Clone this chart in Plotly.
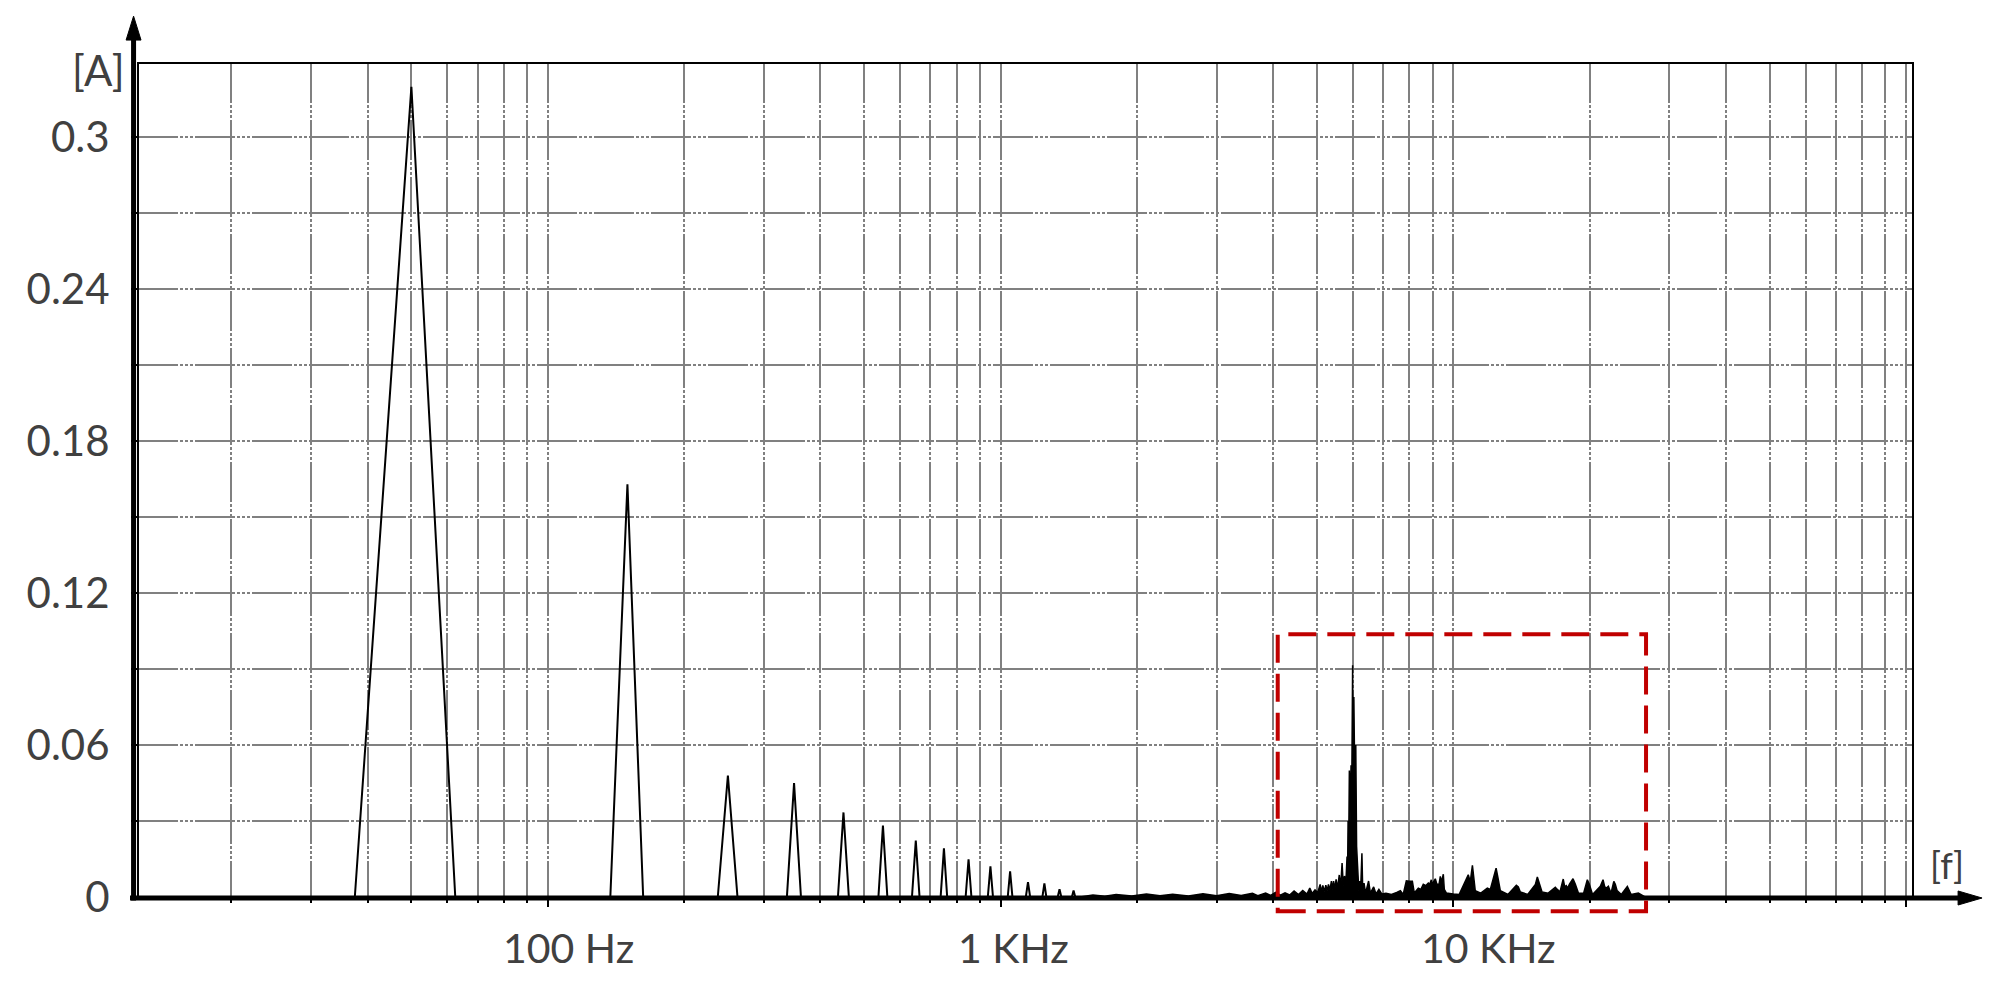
import plotly.graph_objects as go

# harmonic lines of the 50 Hz fundamental: frequency [Hz] and amplitude [A]
harm_freq = [50, 150, 250, 350, 450, 550, 650, 750, 850, 950, 1050, 1150, 1250, 1350, 1450]
harm_amp = [0.320, 0.163, 0.048, 0.045, 0.0334, 0.0282, 0.0223, 0.0192, 0.0149, 0.0121,
            0.0101, 0.0059, 0.0054, 0.0031, 0.0026]
half_width = 12.5  # base half-width of each harmonic peak [Hz]

# high-frequency part (noise + switching cluster around 6 kHz + sidebands)
hf_freq = [1500, 1600, 1700, 1800, 1950, 2100, 2250, 2400, 2600, 2800, 3000, 3200, 3400,
           3600, 3700, 3850, 3950, 4050, 4150, 4250, 4350, 4450, 4550, 4650, 4750, 4820,
           4880, 4950, 5020, 5080, 5120, 5150, 5190, 5230, 5265, 5300, 5340, 5380, 5410,
           5440, 5475, 5510, 5550, 5600, 5640, 5680, 5715, 5750, 5790, 5825, 5840, 5856,
           5875, 5894, 5915, 5945, 5965, 5993, 6010, 6030, 6060, 6090, 6115, 6160, 6185,
           6210, 6240, 6283, 6310, 6350, 6400, 6500, 6560, 6670, 6750, 6850, 6950, 7100,
           7300, 7500, 7640, 7750, 7875, 8000, 8120, 8200, 8370, 8480, 8585, 8700, 8807,
           8870, 8942, 9000, 9033, 9125, 9200, 9300, 9360, 9420, 9504, 9552, 9650, 10000,
           10300, 10790, 10900, 11020, 11120, 11180, 11500, 11890, 12070, 12250, 12430,
           12550, 12700, 13200, 13780, 13920, 14060, 14600, 15180, 15330, 15490, 15700,
           16200, 16800, 16970, 17200, 17490, 17620, 17760, 17900, 18040, 18380, 18600,
           18900, 19400, 19770, 19970, 20300, 21120, 21410, 21600, 21780, 22000, 22300,
           22620, 22790, 23000, 23500, 24230, 24350, 24700, 25620, 25880, 26500]
hf_amp = [0.0, 0.0008, 0.0003, 0.0010, 0.0004, 0.0012, 0.0005, 0.0011, 0.0004, 0.0013,
          0.0005, 0.0014, 0.0006, 0.0015, 0.0005, 0.0016, 0.0006, 0.0018, 0.0007, 0.0016,
          0.0008, 0.0024, 0.0010, 0.0026, 0.0012, 0.0035, 0.0014, 0.0028, 0.0018, 0.0050,
          0.0020, 0.0046, 0.0022, 0.0047, 0.0025, 0.0050, 0.0028, 0.0063, 0.0030, 0.0063,
          0.0032, 0.0070, 0.0035, 0.0087, 0.0040, 0.0134, 0.0045, 0.0083, 0.0050, 0.016,
          0.008, 0.030, 0.020, 0.050, 0.030, 0.052, 0.040, 0.0915, 0.050, 0.079, 0.045,
          0.060, 0.020, 0.0055, 0.0025, 0.0063, 0.0020, 0.0173, 0.0020, 0.0055, 0.0015,
          0.0063, 0.0015, 0.0040, 0.0012, 0.0030, 0.0012, 0.0015, 0.0010, 0.0018, 0.0025,
          0.0010, 0.0064, 0.0062, 0.0062, 0.0016, 0.0035, 0.0030, 0.0050, 0.0045, 0.0055,
          0.0050, 0.0068, 0.0040, 0.0058, 0.0072, 0.0050, 0.0050, 0.0081, 0.0060, 0.0090,
          0.0030, 0.0016, 0.0012, 0.0010, 0.0088, 0.0060, 0.0125, 0.0060, 0.0025, 0.0015,
          0.0035, 0.0030, 0.0068, 0.0114, 0.0075, 0.0025, 0.0010, 0.0046, 0.0040, 0.0020,
          0.0010, 0.0050, 0.0079, 0.0055, 0.0020, 0.0015, 0.0038, 0.0030, 0.0020, 0.0071,
          0.0040, 0.0045, 0.0035, 0.0050, 0.0072, 0.0050, 0.0015, 0.0015, 0.0068, 0.0050,
          0.0010, 0.0042, 0.0068, 0.0040, 0.0035, 0.0042, 0.0015, 0.0062, 0.0050, 0.0025,
          0.0010, 0.0042, 0.0035, 0.0010, 0.0016, 0.0012, 0.0]

y_ticks = [0, 0.03, 0.06, 0.09, 0.12, 0.15, 0.18, 0.21, 0.24, 0.27, 0.3]
y_ticktext = ['0', '', '0.06', '', '0.12', '', '0.18', '', '0.24', '', '0.3']
x_major = [100, 1000, 10000, 100000]
x_minor = [m * 10 ** e for e in range(1, 5) for m in range(2, 10)]
x_labels = ['100 Hz', '1 KHz', '10 KHz']

# build peak polyline for the harmonics
lx, ly = [12.5], [0.0]
for f, a in zip(harm_freq, harm_amp):
    lx += [f - half_width, f, f + half_width]
    ly += [0.0, a, 0.0]
lx.append(hf_freq[0])
ly.append(0.0)

fig = go.Figure()
fig.add_trace(go.Scatter(x=lx, y=ly, mode='lines', line=dict(color='black', width=2),
                         showlegend=False, hoverinfo='skip'))
fig.add_trace(go.Scatter(x=hf_freq, y=hf_amp, mode='lines', fill='tozeroy',
                         fillcolor='black', line=dict(color='black', width=1.5),
                         showlegend=False, hoverinfo='skip'))

grid = dict(gridcolor='#808080', gridwidth=2,
            griddash='40px,2px,3px,2px,3px,2px,3px,2px')
txt = dict(family='Lato, Carlito, sans-serif', color='#404040')

# the page body adds 8px, so margins are shifted to land the frame at 138..1913 / 63..899
fig.update_layout(
    width=2012, height=982,
    margin=dict(l=130, r=107, t=55, b=93),
    plot_bgcolor='white', paper_bgcolor='white',
    xaxis=dict(type='log', range=[1.0952, 5.0152], tickmode='array', tickvals=x_major,
               ticktext=['', '', '', ''], ticks='outside', ticklen=9, tickwidth=1.5,
               tickcolor='black', showline=False, zeroline=False, showgrid=True,
               minor=dict(tickmode='array', tickvals=x_minor, ticks='outside', ticklen=5,
                          tickwidth=1.5, tickcolor='black', showgrid=True, **grid),
               **grid),
    yaxis=dict(range=[0, 0.3294], tickmode='array', tickvals=y_ticks, ticktext=y_ticktext,
               ticks='outside', ticklen=6, tickwidth=1.5, tickcolor='black',
               ticklabelstandoff=13, tickfont=dict(size=42, **txt),
               showline=False, zeroline=False, showgrid=True, **grid),
)

# x labels sit a little to the right of their decade lines
for label, xp in zip(x_labels, [0.2423, 0.4935, 0.7606]):
    fig.add_annotation(text=label, xref='paper', yref='paper', x=xp, y=-0.061,
                       xanchor='center', yanchor='middle', showarrow=False,
                       font=dict(size=41, **txt))
fig.add_annotation(text='[A]', xref='paper', yref='paper', x=-0.0062, y=0.9916,
                   xanchor='right', yanchor='middle', showarrow=False, font=dict(size=42, **txt))
fig.add_annotation(text='[f]', xref='paper', yref='paper', x=1.019, y=0.0386,
                   xanchor='center', yanchor='middle', showarrow=False, font=dict(size=36, **txt))

# frame, axes with arrows, highlight box
fig.add_shape(type='rect', xref='paper', yref='paper', x0=0, y0=0, x1=1, y1=1,
              line=dict(color='black', width=2), layer='above')
fig.add_shape(type='line', xref='paper', yref='paper', x0=-0.0025, y0=-0.0042, x1=-0.0025,
              y1=1.03, line=dict(color='black', width=5), layer='above')
fig.add_shape(type='path', xref='paper', yref='paper',
              path='M -0.0025,1.0562 L -0.0067,1.0275 L 0.0017,1.0275 Z',
              fillcolor='black', line=dict(color='black', width=1), layer='above')
fig.add_shape(type='line', xref='paper', yref='paper', x0=-0.0045, y0=-0.0012, x1=1.0265,
              y1=-0.0012, line=dict(color='black', width=5), layer='above')
fig.add_shape(type='path', xref='paper', yref='paper',
              path='M 1.0389,-0.0012 L 1.0254,0.0072 L 1.0254,-0.0096 Z',
              fillcolor='black', line=dict(color='black', width=1), layer='above')
fig.add_shape(type='rect', xref='paper', yref='paper', x0=0.6421, y0=-0.0171, x1=0.8496,
              y1=0.3150, line=dict(color='#C00000', width=4, dash='28px,11px'), layer='above')

fig.write_html("out.html")
